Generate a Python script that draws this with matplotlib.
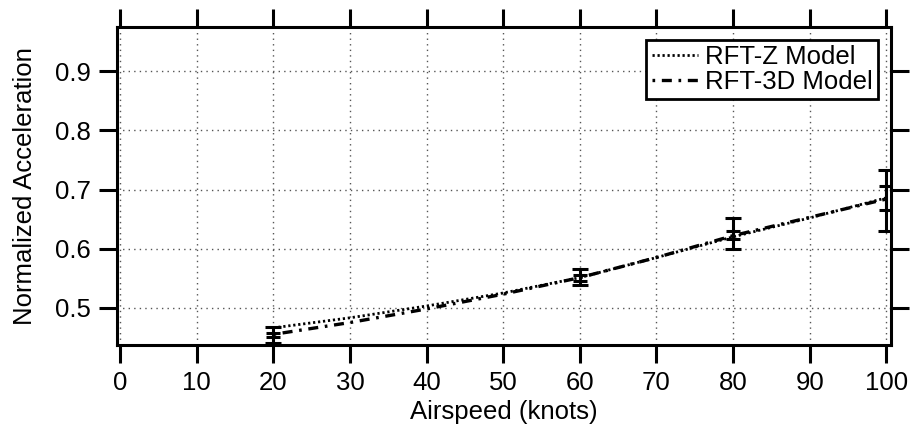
import matplotlib
matplotlib.use("Agg")
import matplotlib.pyplot as plt

plt.rcParams['font.family'] = ['Liberation Sans', 'DejaVu Sans']

# Model curves
airspeed = [20, 30, 40, 50, 60, 70, 80, 90, 100]
rft_z = [0.466, 0.483, 0.503, 0.525, 0.551, 0.585, 0.620, 0.652, 0.686]
rft_3d = [0.455, 0.475, 0.498, 0.523, 0.551, 0.585, 0.622, 0.653, 0.684]

# Error bars at measured airspeeds
err_x = [20, 60, 80, 100]
err_center_a = [0.4545, 0.5515, 0.6255, 0.6815]
err_half_a = [0.0135, 0.0135, 0.0265, 0.0515]
err_center_b = [0.4545, 0.5505, 0.623, 0.6855]
err_half_b = [0.0035, 0.0045, 0.007, 0.0205]

x_ticks = [0, 10, 20, 30, 40, 50, 60, 70, 80, 90, 100]
y_ticks = [0.5, 0.6, 0.7, 0.8, 0.9]

fig = plt.figure(figsize=(9.15, 4.44), dpi=100)
ax = fig.add_axes([0.128, 0.223, 0.846, 0.716])

ax.errorbar(err_x, err_center_a, yerr=err_half_a, fmt='none', ecolor='black',
            elinewidth=2.2, capsize=6, capthick=2.2, zorder=3)
ax.errorbar(err_x, err_center_b, yerr=err_half_b, fmt='none', ecolor='black',
            elinewidth=2.2, capsize=5, capthick=2.2, zorder=3)

ax.plot(airspeed, rft_z, color='black', lw=2.0, linestyle=(0, (0.8, 1.0)),
        label='RFT-Z Model', zorder=4)
ax.plot(airspeed, rft_3d, color='black', lw=2.4, linestyle=(0, (0.8, 2.0, 3.0, 2.0)),
        label='RFT-3D Model', zorder=4)

ax.set_xlim(-0.4, 100.65)
ax.set_ylim(0.437, 0.975)
ax.set_xticks(x_ticks)
ax.set_yticks(y_ticks)
ax.set_yticklabels([f"{v:.1f}" for v in y_ticks])

ax.grid(True, color='#555555', linestyle=(0, (1, 3)), linewidth=1.0)
ax.set_axisbelow(True)

for s in ax.spines.values():
    s.set_linewidth(2.2)

ax.tick_params(axis='both', which='major', direction='out', length=13, width=2.2,
               labelsize=18.5, top=True, right=True, pad=6, colors='black')

ax.set_xlabel('Airspeed (knots)', fontsize=18.5, labelpad=3)
ax.set_ylabel('Normalized Acceleration', fontsize=18.5, labelpad=13)

leg = ax.legend(loc='upper right', fontsize=18.5, frameon=True, fancybox=False,
                handlelength=1.8, handletextpad=0.3, borderpad=0.2,
                labelspacing=0.05, borderaxespad=0.5)
leg.get_frame().set_edgecolor('black')
leg.get_frame().set_linewidth(2.0)
leg.get_frame().set_alpha(1)

fig.savefig('out.png', dpi=100)
